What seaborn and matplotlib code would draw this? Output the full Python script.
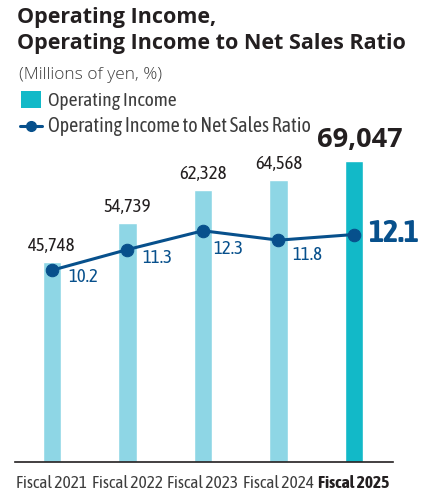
import numpy as np
import matplotlib
matplotlib.use('Agg')
import matplotlib.pyplot as plt
import seaborn as sns
from matplotlib.patches import Rectangle
from matplotlib.lines import Line2D

sns.set_theme(style='white')
plt.rcParams['font.family'] = ['Open Sans', 'DejaVu Sans']

# data
years = ['Fiscal 2021', 'Fiscal 2022', 'Fiscal 2023', 'Fiscal 2024', 'Fiscal 2025']
income = [45748, 54739, 62328, 64568, 69047]
ratio = [10.2, 11.3, 12.3, 11.8, 12.1]

# label offsets for the ratio values (pixels), placed so they clear the line
ratio_offsets = [(16, -7), (15, -8), (10, -18), (14, -15), (14, 1)]

bar_light = '#8ed6e5'
bar_main = '#12b9c8'
line_col = '#07508c'
txt_col = '#231f20'
grey_txt = '#3d3d3d'
narrow = ['Asap Condensed', 'Barlow Semi Condensed', 'DejaVu Sans']

W, H = 423, 498
fig = plt.figure(figsize=(W / 100, H / 100), dpi=100)
ax = fig.add_axes([15 / W, 1 - 462 / H, 378 / W, 362 / H])

cols = [bar_light] * 4 + [bar_main]
sns.barplot(x=years, y=income, hue=years, palette=cols, legend=False,
            width=0.25, ax=ax, saturation=1)
ax.set_ylim(0, 83000)
ax.set_xlim(-0.49, 4.517)
for s in ['top', 'right', 'left']:
    ax.spines[s].set_visible(False)
ax.spines['bottom'].set_color(txt_col)
ax.spines['bottom'].set_linewidth(1.2)
ax.set_yticks([])
ax.set_xlabel('')
ax.tick_params(axis='x', length=0, pad=9.5)
ax.set_xticks(range(len(years)))
ax.set_xticklabels(years)
for i, lab in enumerate(ax.get_xticklabels()):
    lab.set_fontfamily(narrow)
    lab.set_fontsize(12.5)
    lab.set_color(grey_txt)
    if i == len(years) - 1:
        lab.set_fontweight('bold')
        lab.set_color(txt_col)

# bar value labels
for i, v in enumerate(income):
    if i == len(income) - 1:
        ax.annotate(f'{v:,}', (i, v), xytext=(6, 8), textcoords='offset pixels',
                    ha='center', va='bottom', fontsize=19.5, fontweight='bold',
                    color=txt_col, family=['Open Sans', 'DejaVu Sans'])
    else:
        ax.annotate(f'{v:,}', (i, v), xytext=(0, 7), textcoords='offset pixels',
                    ha='center', va='bottom', fontsize=13.5, color=txt_col,
                    family=narrow)

# ratio line
ax2 = ax.twinx()
sns.lineplot(x=np.arange(len(ratio)), y=ratio, color=line_col, linewidth=2.2,
             marker='o', markersize=9, markeredgecolor=line_col, ax=ax2)
ax2.set_ylim(0, 362 / 18.8)
ax2.set_yticks([])
ax2.set_ylabel('')
for s in ['top', 'right', 'left', 'bottom']:
    ax2.spines[s].set_visible(False)

for i, r in enumerate(ratio):
    dx, dy = ratio_offsets[i]
    if i == len(ratio) - 1:
        ax2.annotate(f'{r}', (i, r), xytext=(dx, dy), textcoords='offset pixels',
                     ha='left', va='center', fontsize=23, fontweight='bold',
                     color=line_col, family=narrow)
    else:
        ax2.annotate(f'{r}', (i, r), xytext=(dx, dy), textcoords='offset pixels',
                     ha='left', va='center', fontsize=13.5, color=line_col,
                     family=narrow)

# titles
fig.text(17 / W, 1 - 7 / H, 'Operating Income,\nOperating Income to Net Sales Ratio',
         ha='left', va='top', fontsize=15.5, fontweight='bold', color=txt_col,
         linespacing=1.3)
fig.text(19 / W, 1 - 75 / H, '(Millions of yen, %)', ha='left', va='center',
         fontsize=12.5, color=grey_txt, fontweight='light')

# legend drawn by hand
fig.add_artist(Rectangle((21 / W, 1 - 108 / H), 20 / W, 17 / H,
                         transform=fig.transFigure, color=bar_main, lw=0))
fig.text(48 / W, 1 - 101 / H, 'Operating Income', ha='left', va='center',
         fontsize=14, color=grey_txt, family=narrow)
fig.add_artist(Line2D([20 / W, 42 / W], [1 - 126 / H, 1 - 126 / H],
                      transform=fig.transFigure, color=line_col, lw=2.2))
fig.add_artist(Line2D([31 / W], [1 - 126 / H], transform=fig.transFigure,
                      color=line_col, marker='o', markersize=7))
fig.text(48 / W, 1 - 126 / H, 'Operating Income to Net Sales Ratio', ha='left',
         va='center', fontsize=14.4, color=grey_txt, family=narrow)

fig.savefig('out.png', dpi=100)
